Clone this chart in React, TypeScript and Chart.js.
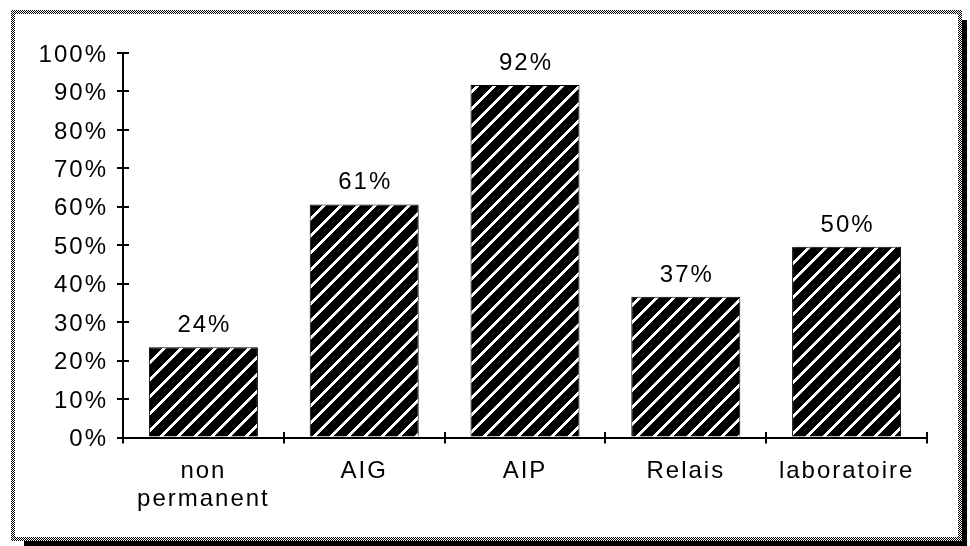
import React, { useEffect, useRef } from "react";
import { Chart, registerables } from "chart.js";

Chart.register(...registerables);

const categories: (string | string[])[] = [["non", "permanent"], "AIG", "AIP", "Relais", "laboratoire"];
const values: number[] = [23.5, 60.6, 91.7, 36.6, 49.6];
const yMin = 0;
const yMax = 100;
const yStep = 10;

const FONT = "'Liberation Sans', Arial, Helvetica, sans-serif";
const FSIZE = 24;

function makeHatch(): CanvasPattern | string {
  const s = 17;
  const c = document.createElement("canvas");
  c.width = s;
  c.height = s;
  const x = c.getContext("2d");
  if (!x) return "#000";
  const img = x.createImageData(s, s);
  for (let j = 0; j < s; j++) {
    for (let i = 0; i < s; i++) {
      const white = (i + j) % s < 4;
      const k = (j * s + i) * 4;
      const v = white ? 255 : 0;
      img.data[k] = v;
      img.data[k + 1] = v;
      img.data[k + 2] = v;
      img.data[k + 3] = 255;
    }
  }
  x.putImageData(img, 0, 0);
  return x.createPattern(c, "repeat") || "#000";
}

function makeChecker(ctx: CanvasRenderingContext2D): CanvasPattern | string {
  const c = document.createElement("canvas");
  c.width = 2;
  c.height = 2;
  const x = c.getContext("2d");
  if (!x) return "#888";
  x.fillStyle = "#fff";
  x.fillRect(0, 0, 2, 2);
  x.fillStyle = "#000";
  x.fillRect(0, 0, 1, 1);
  x.fillRect(1, 1, 1, 1);
  return ctx.createPattern(c, "repeat") || "#888";
}

const spacingPlugin = {
  id: "spacing",
  beforeUpdate(chart: any) {
    (chart.ctx as any).letterSpacing = "2px";
  },
  beforeDraw(chart: any) {
    (chart.ctx as any).letterSpacing = "2px";
  },
};

const decorPlugin = {
  id: "decor",
  afterDraw(chart: any) {
    const ctx: CanvasRenderingContext2D = chart.ctx;
    const xs = chart.scales.x;
    const ys = chart.scales.y;
    ctx.save();
    ctx.strokeStyle = "#000";
    ctx.lineWidth = 2;
    const ax = Math.round(ys.right);
    ys.ticks.forEach((t: any) => {
      const y = Math.round(ys.getPixelForValue(t.value));
      ctx.beginPath();
      ctx.moveTo(ax - 1, y);
      ctx.lineTo(ax + 6, y);
      ctx.stroke();
    });
    const n = chart.data.labels.length;
    const half = (xs.getPixelForValue(1) - xs.getPixelForValue(0)) / 2;
    const ay = Math.round(xs.top);
    for (let i = 0; i <= n; i++) {
      const x = Math.round(xs.getPixelForValue(i) - half);
      ctx.beginPath();
      ctx.moveTo(x, ay + 1);
      ctx.lineTo(x, ay - 6);
      ctx.stroke();
    }
    const chk = makeChecker(ctx);
    ctx.fillStyle = chk as any;
    ctx.fillRect(11, 10, 951, 4);
    ctx.fillRect(11, 537, 951, 4);
    ctx.fillRect(11, 10, 4, 531);
    ctx.fillRect(958, 10, 4, 531);
    ctx.fillStyle = "#000";
    ctx.fillRect(962, 20, 5, 526);
    ctx.fillRect(24, 541, 943, 5);
    ctx.restore();
  },
};

const labelPlugin = {
  id: "barLabels",
  afterDatasetsDraw(chart: any) {
    const ctx: CanvasRenderingContext2D = chart.ctx;
    const meta = chart.getDatasetMeta(0);
    ctx.save();
    (ctx as any).letterSpacing = "2px";
    ctx.font = `${FSIZE}px ${FONT}`;
    ctx.fillStyle = "#000";
    ctx.textAlign = "center";
    ctx.textBaseline = "alphabetic";
    meta.data.forEach((bar: any, i: number) => {
      const v = values[i];
      ctx.fillText(Math.round(v) + "%", bar.x + 1, bar.y - 15);
    });
    ctx.restore();
  },
};

export default function App() {
  const ref = useRef<HTMLCanvasElement | null>(null);
  useEffect(() => {
    document.body.style.margin = "0";
    const canvas = ref.current;
    if (!canvas) return;
    const chart = new Chart(canvas, {
      type: "bar",
      data: {
        labels: categories as any,
        datasets: [
          {
            data: values,
            backgroundColor: makeHatch() as any,
            borderColor: "#000",
            borderWidth: 1,
            barPercentage: 0.678,
            categoryPercentage: 1,
          },
        ],
      },
      options: {
        animation: false,
        responsive: false,
        devicePixelRatio: 1,
        layout: { padding: { top: 53, right: 43, bottom: 0, left: 0 } },
        plugins: {
          legend: { display: false },
          tooltip: { enabled: false },
        },
        scales: {
          x: {
            afterFit(scale: any) {
              scale.height = 108.5;
            },
            grid: {
              display: true,
              drawOnChartArea: false,
              drawTicks: true,
              tickLength: 6,
              color: "#000",
              lineWidth: 2,
              offset: true,
            },
            border: { display: true, color: "#000", width: 2 },
            ticks: {
              color: "#000",
              font: { family: FONT, size: FSIZE, lineHeight: 1.15 },
              padding: 14,
              maxRotation: 0,
              autoSkip: false,
            },
          },
          y: {
            min: yMin,
            max: yMax,
            afterFit(scale: any) {
              scale.width = 123;
            },
            grid: {
              display: true,
              drawOnChartArea: false,
              drawTicks: true,
              tickLength: 6,
              color: "#000",
              lineWidth: 2,
            },
            border: { display: true, color: "#000", width: 2 },
            ticks: {
              stepSize: yStep,
              color: "#000",
              font: { family: FONT, size: FSIZE },
              padding: 9,
              labelOffset: 2,
              callback: (v: any) => v + "%",
            },
          },
        },
      },
      plugins: [spacingPlugin, labelPlugin, decorPlugin],
    });
    return () => chart.destroy();
  }, []);
  return (
    <div style={{ position: "absolute", left: 0, top: 0, width: 970, height: 546, background: "#fff" }}>
      <canvas ref={ref} width={970} height={546} style={{ width: 970, height: 546, display: "block" }} />
    </div>
  );
}
